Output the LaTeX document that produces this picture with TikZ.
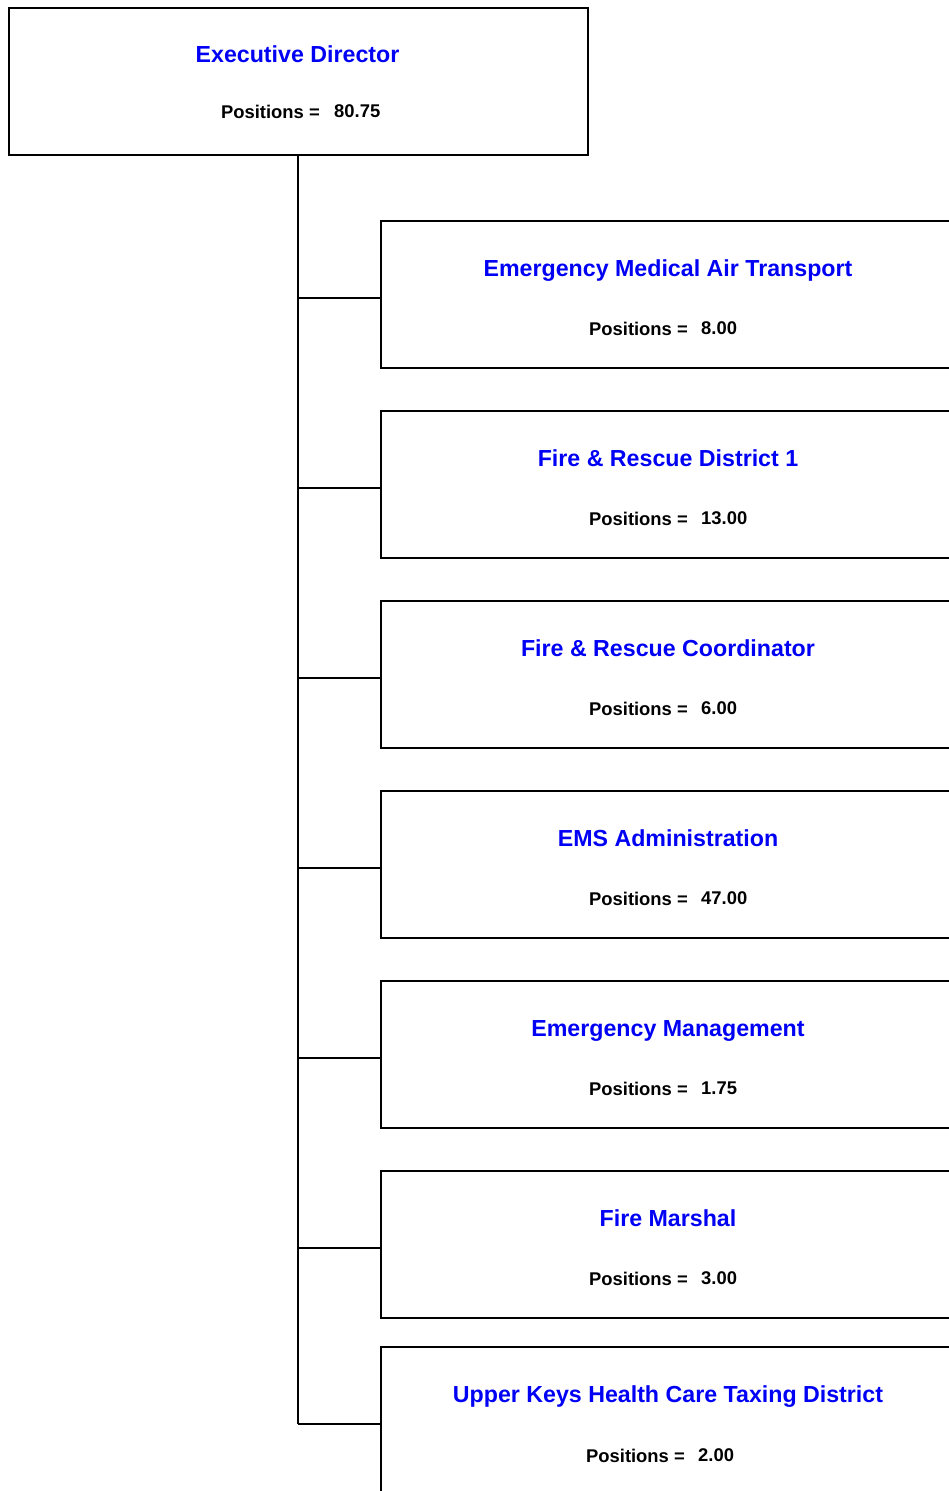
\documentclass[tikz,border=0pt]{standalone}
\usepackage{fontspec}
\setmainfont{Liberation Sans}
\definecolor{titleblue}{RGB}{0,0,245}
\begin{document}
\begin{tikzpicture}[x=1pt,y=1pt,
  unitbox/.style={draw=black,line width=2.4pt,rectangle,inner sep=0pt,minimum width=577pt,minimum height=147pt,anchor=north west},
  ttl/.style={font=\fontsize{23.2}{26}\selectfont\bfseries,text=titleblue,inner sep=0pt,anchor=base},
  poslabel/.style={font=\fontsize{18.4}{21}\selectfont\bfseries,inner sep=0pt,anchor=base east},
  posnum/.style={font=\fontsize{18.4}{21}\selectfont\bfseries,inner sep=0pt,anchor=base west},
  link/.style={line width=2.2pt,draw=black}]
\useasboundingbox (0,0) rectangle (949,-1491);
\clip (0,0) rectangle (949,-1491);
% executive box
\node[unitbox,minimum width=579pt] (exec) at (8,-7) {};
\node[ttl] (exectitle) at (297.5,-62) {Executive Director};
\node[poslabel] (execpl) at (320,-118) {Positions =};
\node[posnum] (execpn) at (334,-117) {80.75};
% trunk
\coordinate (trunkend) at (298,-1424);
\draw[link] (298,-154) -- (trunkend);
% sub boxes
\foreach \i/\top/\name/\num in {
  1/220/Emergency Medical Air Transport/8.00,
  2/410/Fire \& Rescue District 1/13.00,
  3/600/Fire \& Rescue Coordinator/6.00,
  4/790/EMS Administration/47.00,
  5/980/Emergency Management/1.75,
  6/1170/Fire Marshal/3.00}{
  \node[unitbox] (box\i) at (380,-\top) {};
  \node[ttl] (t\i) at (668,-\top-56) {\name};
  \node[poslabel] (pl\i) at (688,-\top-115) {Positions =};
  \node[posnum] (pn\i) at (701,-\top-114) {\num};
  \coordinate (j\i) at (298,-\top-78);
  \draw[link] (j\i) -- (j\i -| box\i.west);
}
\node[unitbox] (box7) at (380,-1346) {};
\node[ttl] (t7) at (668,-1402.5) {Upper Keys Health Care Taxing District};
\node[poslabel] (pl7) at (685,-1462) {Positions =};
\node[posnum] (pn7) at (698,-1461) {2.00};
\draw[link] (trunkend) -- (trunkend -| box7.west);
\end{tikzpicture}
\end{document}
